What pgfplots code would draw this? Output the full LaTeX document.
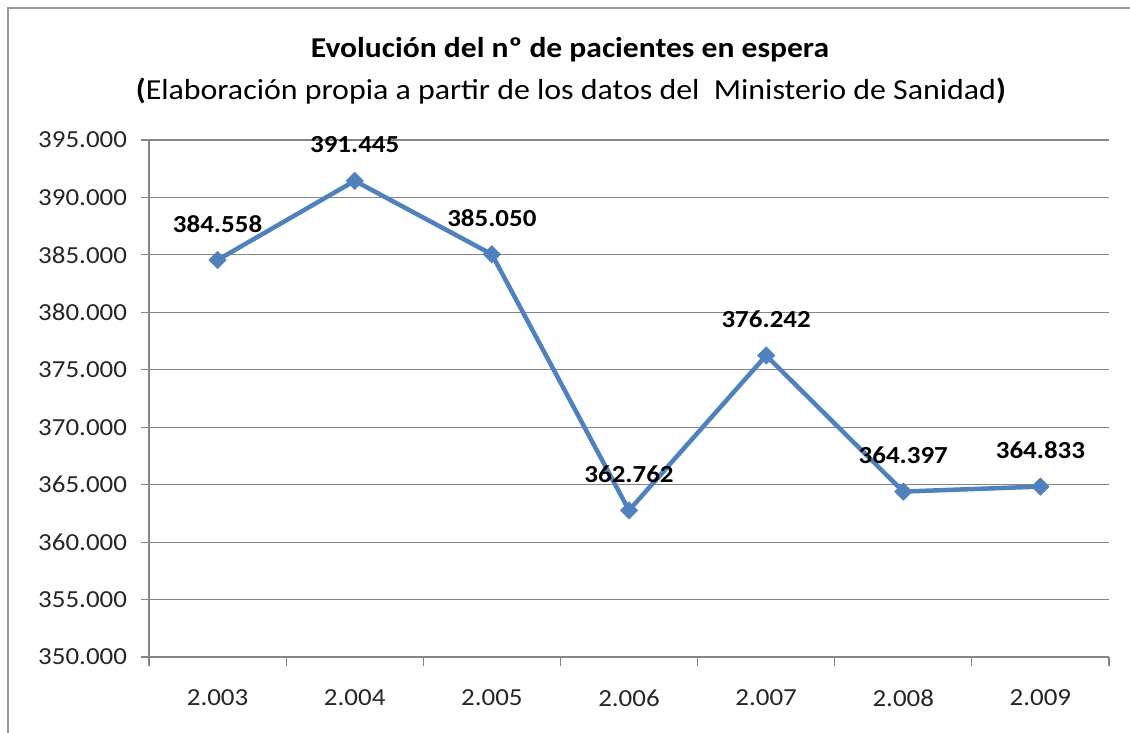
\documentclass[border=0pt]{standalone}
\usepackage{pgfplots}
\pgfplotsset{compat=1.18}
\usepackage{fontspec}
\setmainfont{Carlito}[FakeStretch=1.1]
\definecolor{lineblue}{HTML}{4F81BD}
\definecolor{gridgray}{HTML}{868686}
\begin{document}
\begin{tikzpicture}
\useasboundingbox (0,0) rectangle (1130bp,733bp);
\draw[line width=2bp, color=gray!80] (8bp,-20bp) rectangle (1150bp,724.5bp);
\node[font=\fontsize{28.7bp}{32bp}\selectfont\bfseries] at (570bp,683bp) {Evolución del nº de pacientes en espera};
\node[font=\fontsize{29bp}{33bp}\selectfont] at (571bp,642bp) {\textbf{(}Elaboración propia a partir de los datos del\ \ Ministerio de Sanidad\textbf{)}};
\begin{axis}[
  scale only axis,
  width=960bp, height=517bp,
  at={(149bp,76bp)}, anchor=south west,
  xmin=-0.5, xmax=6.5,
  ymin=350000, ymax=395000,
  axis x line*=bottom, axis y line*=left,
  axis line style={draw=gridgray, line width=1.2bp, -},
  xtick={0,...,6},
  xticklabels={2.003,2.004,2.005,2.006,2.007,2.008,2.009},
  minor xtick={-0.5,0.5,...,6.5},
  major x tick style={draw=none},
  minor x tick style={draw=gridgray, line width=1.2bp},
  minor tick length=9bp,
  major tick length=8bp,
  tick align=outside,
  scaled y ticks=false,
  ytick={350000,355000,360000,365000,370000,375000,380000,385000,390000,395000},
  yticklabels={350.000,355.000,360.000,365.000,370.000,375.000,380.000,385.000,390.000,395.000},
  y tick style={draw=gridgray, line width=1.2bp},
  ymajorgrids,
  major grid style={draw=gridgray, line width=1.2bp},
  ticklabel style={font=\fontsize{24.5bp}{28bp}\selectfont, text=black!85},
  xticklabel style={yshift=-21bp},
  yticklabel style={xshift=-10.5bp},
  clip=false,
]
\addplot[color=lineblue, line width=4.5bp, mark=square*, mark size=6.2bp,
  mark options={fill=lineblue, draw=lineblue, line width=0.5bp, rotate=45},
  nodes near coords,
  nodes near coords style={anchor=center, yshift=36bp, text=black,
    font=\fontsize{24.5bp}{28bp}\selectfont\bfseries,
    /pgf/number format/.cd, fixed, precision=0, 1000 sep={.}, assume math mode=true},
] coordinates {
  (0,384558) (1,391445) (2,385050) (3,362762) (4,376242) (5,364397) (6,364833)
};
\end{axis}
\end{tikzpicture}
\end{document}
